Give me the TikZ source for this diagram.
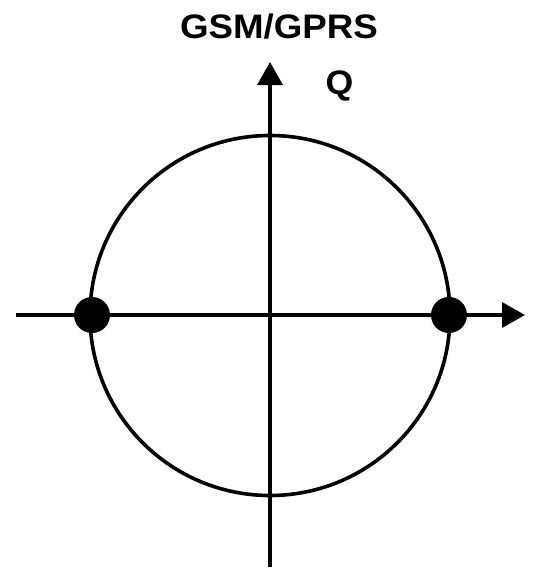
\documentclass[tikz,border=0pt]{standalone}
\usepackage{fontspec}
\setmainfont{Liberation Sans}
\usetikzlibrary{arrows.meta}
\begin{document}
\begin{tikzpicture}[x=1pt,y=-1pt,
  axis/.style={line width=3.6pt,-{Triangle[length=23pt,width=25pt]}},
  dot/.style={circle,fill=black,inner sep=0pt,minimum size=36pt},
  lbl/.style={font=\bfseries\fontsize{34}{34}\selectfont,inner sep=0pt,anchor=base}]
\useasboundingbox (0,0) rectangle (547,570);
\coordinate (xs) at (16,315);
\coordinate (xe) at (525,315);
\coordinate (ys) at (270,567);
\coordinate (ye) at (270,62);
\node[draw,circle,line width=3.6pt,minimum size=360pt,inner sep=0pt] (c) at (270,315.5) {};
\draw[axis] (xs) -- (xe);
\draw[axis] (ys) -- (ye);
\node[dot] (d1) at (92,315) {};
\node[dot] (d2) at (449,315) {};
\node[lbl] (t) at (279,38) {\scalebox{1.08}[1]{GSM/GPRS}};
\node[lbl] (q) at (339.5,94) {\scalebox{1.05}[1]{Q}};
\end{tikzpicture}
\end{document}
